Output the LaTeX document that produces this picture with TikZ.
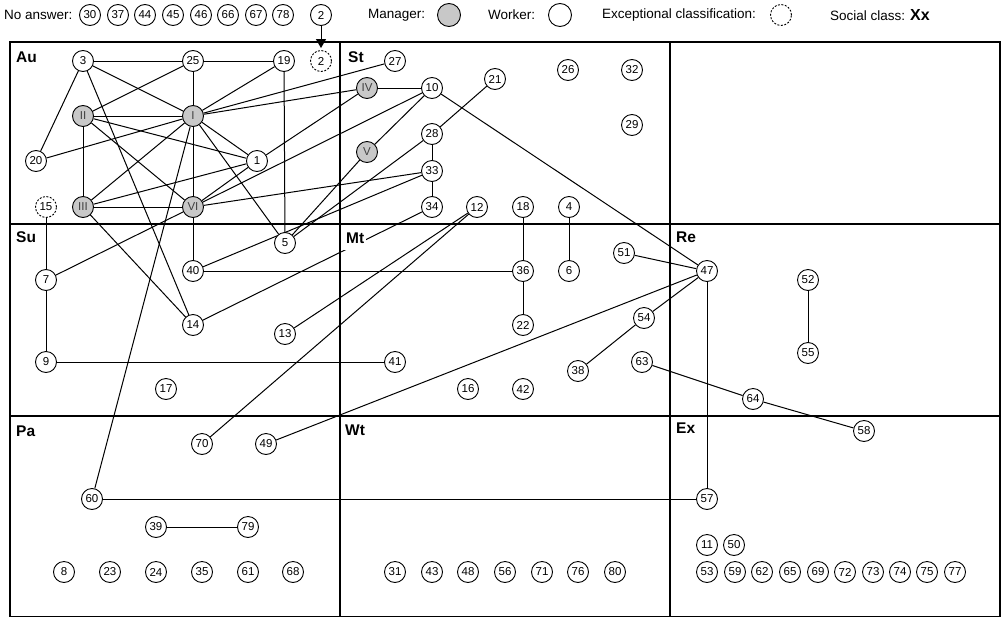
\documentclass[tikz,border=0pt]{standalone}
\usepackage{fontspec}
\setmainfont{Liberation Sans}
\usetikzlibrary{arrows.meta,backgrounds}
\definecolor{mgray}{RGB}{200,200,200}
\begin{document}
\begin{tikzpicture}[x=1pt,y=-1pt,
  wk/.style={circle,draw,line width=0.9pt,minimum size=21pt,inner sep=0pt,fill=white,
    font=\fontsize{11.5}{11.5}\selectfont},
  mg/.style={wk,fill=mgray,text=black!75},
  ex/.style={wk,dash pattern=on 2pt off 1.5pt},
  edge/.style={line width=1pt},
  frame/.style={line width=1.8pt},
  lab/.style={font=\fontsize{15.5}{15.5}\selectfont\bfseries,anchor=base west,inner sep=0pt},
  leg/.style={font=\fontsize{13.5}{13.5}\selectfont,anchor=west,inner sep=0pt}]
\useasboundingbox (0,0) rectangle (1004,616);
% legend
\node[leg] (tna) at (4,15) {No answer:};
\foreach \n/\x in {30/90,37/118,44/145,45/173,46/201,66/228,67/256,78/283}
  \node[wk] (a\n) at (\x,15) {\n};
\node[wk] (la2) at (321,15) {2};
\node[leg] (tman) at (368,15) {Manager:};
\node[mg,minimum size=23pt] (lman) at (449,15) {};
\node[leg] (twk) at (488,15) {Worker:};
\node[wk,minimum size=23pt] (lwk) at (560,15) {};
\node[leg] (tex) at (602,15) {Exceptional classification:};
\node[ex] (lex) at (781,15) {};
\node[leg] (tsc) at (830,15) {Social class: {\fontsize{16}{16}\selectfont\bfseries Xx}};
% region labels
\node[lab] (lAu) at (16,62) {Au};
\node[lab] (lSt) at (348,62) {St};
\node[lab] (lSu) at (16,242) {Su};
\node[lab,fill=white,inner xsep=2pt,inner ysep=3pt,text depth=4pt] (lMt) at (344,243) {Mt};
\node[lab] (lRe) at (676,242) {Re};
\node[lab] (lPa) at (16,436) {Pa};
\node[lab] (lWt) at (345,435) {Wt};
\node[lab] (lEx) at (676,433) {Ex};
% Au
\node[wk] (n3) at (83,61) {3};
\node[wk] (n25) at (193,61) {25};
\node[wk] (n19) at (284,61) {19};
\node[ex] (n2) at (321,61) {2};
\node[mg] (mII) at (83,116) {II};
\node[mg] (mI) at (193,116) {I};
\node[wk] (n20) at (36,161) {20};
\node[wk] (n1) at (257,161) {1};
\node[ex] (n15) at (46,207) {15};
\node[mg] (mIII) at (83,207) {III};
\node[mg] (mVI) at (193,207) {VI};
% St
\node[wk] (n27) at (395,61) {27};
\node[mg] (mIV) at (367,88) {IV};
\node[wk] (n10) at (432,88) {10};
\node[wk] (n21) at (495,79) {21};
\node[wk] (n26) at (568,70) {26};
\node[wk] (n32) at (632,70) {32};
\node[wk] (n29) at (632,125) {29};
\node[wk] (n28) at (432,134) {28};
\node[mg] (mV) at (367,152) {V};
\node[wk] (n33) at (432,171) {33};
\node[wk] (n34) at (432,207) {34};
\node[wk] (n12) at (477,207) {12};
\node[wk] (n18) at (523,207) {18};
\node[wk] (n4) at (569,207) {4};
% Su
\node[wk] (n5) at (285,243) {5};
\node[wk] (n7) at (46,280) {7};
\node[wk] (n40) at (193,271) {40};
\node[wk] (n14) at (193,325) {14};
\node[wk] (n13) at (285,334) {13};
\node[wk] (n9) at (46,362) {9};
\node[wk] (n17) at (166,389) {17};
% Mt
\node[wk] (n36) at (523,271) {36};
\node[wk] (n6) at (569,271) {6};
\node[wk] (n22) at (523,325) {22};
\node[wk] (n41) at (395,362) {41};
\node[wk] (n16) at (468,389) {16};
\node[wk] (n42) at (523,389) {42};
\node[wk] (n38) at (578,371) {38};
\node[wk] (n54) at (644,318) {54};
\node[wk] (n63) at (642,362) {63};
\node[wk] (n51) at (624,253) {51};
% Re
\node[wk] (n47) at (707,271) {47};
\node[wk] (n52) at (808,280) {52};
\node[wk] (n55) at (808,353) {55};
\node[wk] (n64) at (753,399) {64};
% Ex
\node[wk] (n58) at (864,431) {58};
\node[wk] (n57) at (707,499) {57};
\node[wk] (n11) at (707,545) {11};
\node[wk] (n50) at (734,545) {50};
% Pa
\node[wk] (n70) at (202,444) {70};
\node[wk] (n49) at (266,444) {49};
\node[wk] (n60) at (92,499) {60};
\node[wk] (n39) at (156,527) {39};
\node[wk] (n79) at (248,527) {79};
% bottom rows
\foreach \n/\x in {8/64,23/110,24/156,35/202,61/248,68/293,31/395,43/432,48/468,56/505,71/542,76/578,80/615,53/707,59/735,62/762,65/790,69/818,72/845,73/873,74/900,75/927,77/955}
  \node[wk] (n\n) at (\x,572) {\n};
% arrow
\draw[edge,-{Triangle[length=9pt,width=10pt]},shorten >=2pt] (la2) -- (n2);
\begin{scope}[on background layer]
\draw[frame] (10,42) rectangle (1000,617);
\draw[frame] (340,42) -- (340,617) (670,42) -- (670,617) (10,224) -- (1000,224) (10,416) -- (1000,416);
\foreach \a/\b in {n3/n25,n25/n19,n3/n20,n3/mI,n3/n14,n25/mII,n25/mI,n19/mI,n19/n5,
  mII/mI,mII/mIII,mII/n1,mII/mVI,mIII/mVI,mIII/mI,mIII/n1,mIII/n14,
  n20/mI,mI/mVI,mI/n1,mI/n5,mI/n27,mI/mIV,mI/n60,
  mVI/n1,mVI/n10,mVI/n33,mVI/n40,mVI/n7,
  n1/mIV,mIV/n10,n10/mV,mV/n5,n21/n28,n28/n5,n28/n33,n33/n34,n40/n33,
  n10/n47,n14/n34,n12/n13,n12/n70,
  n15/n7,n7/n9,n9/n41,n40/n36,n18/n36,n36/n22,n4/n6,
  n51/n47,n47/n49,n47/n54,n54/n38,n47/n57,n63/n64,n64/n58,n52/n55,n60/n57,n39/n79}
  \draw[edge] (\a) -- (\b);
\end{scope}
\end{tikzpicture}
\end{document}
